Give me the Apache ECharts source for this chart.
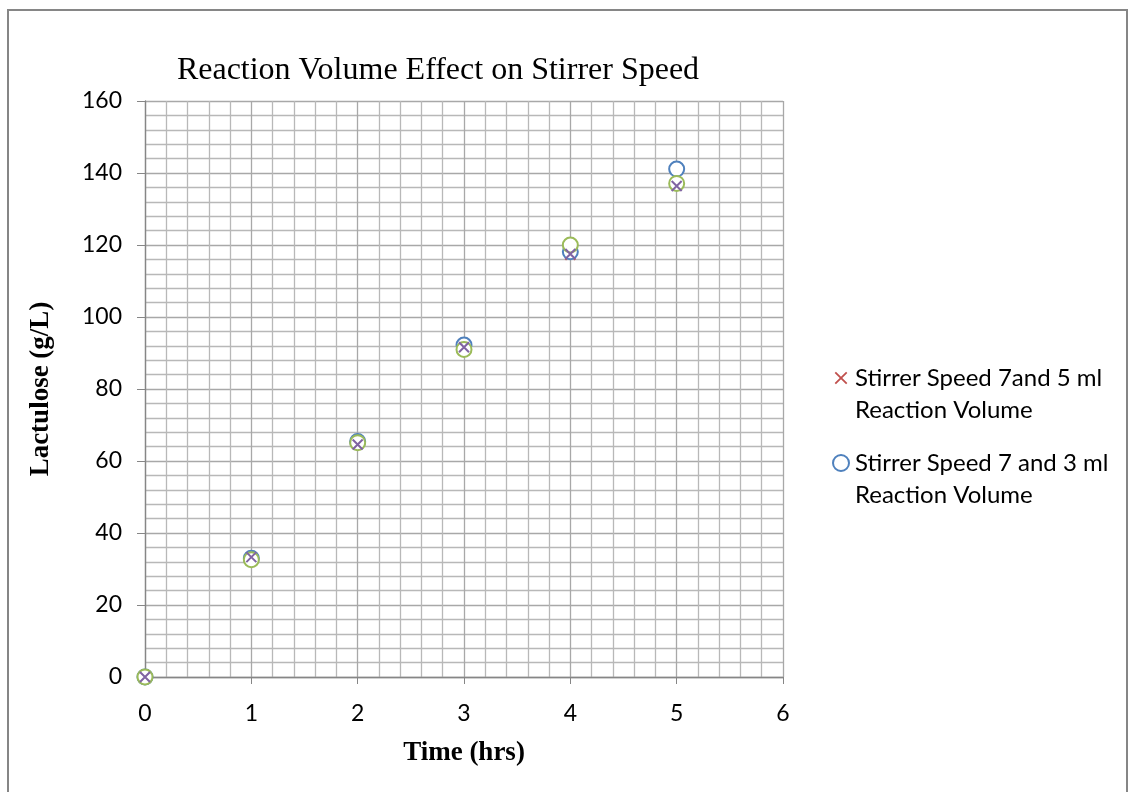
<!DOCTYPE html>
<html>
<head>
<meta charset="utf-8">
<script src="https://cdn.jsdelivr.net/npm/echarts@6/dist/echarts.min.js"></script>
<style>
html, body { margin: 0; padding: 0; background: #fff; }
#chart { width: 1129px; height: 792px; }
</style>
</head>
<body>
<div id="chart"></div>
<script>
// time points (hrs)
var times = [0, 1, 2, 3, 4, 5];
// lactulose g/L per run
var speed7vol5 = [0, 33.2, 65.0, 91.8, 117.3, 139.0];
var speed7vol3 = [0, 33.0, 65.4, 92.2, 118.1, 141.1];
var runGreen = [0, 32.6, 65.1, 91.0, 120.0, 137.1];
var runPurple = [0, 33.3, 64.6, 91.6, 117.5, 136.4];
var legendNames = ['Stirrer Speed 7and 5 ml Reaction Volume', 'Stirrer Speed 7 and 3 ml Reaction Volume'];
var xTicks = [0, 1, 2, 3, 4, 5, 6];
var yTicks = [0, 20, 40, 60, 80, 100, 120, 140, 160];

var crossPath = 'path://M0,0L10,10M10,0L0,10';
// same cross, padded a bit so the legend icon is not too big
var legendCross = 'path://M0,0M14,14M2,2L12,12M12,2L2,12';

function pairs(ys) {
    var out = [];
    for (var i = 0; i < times.length; i++) {
        out.push([times[i], ys[i]]);
    }
    return out;
}

function crossSeries(name, ys, color) {
    return {
        name: name,
        type: 'scatter',
        data: pairs(ys),
        symbol: crossPath,
        symbolSize: 10,
        itemStyle: { color: 'transparent', borderColor: color, borderWidth: 2, opacity: 1 }
    };
}

function circleSeries(name, ys, color) {
    return {
        name: name,
        type: 'scatter',
        data: pairs(ys),
        symbol: 'emptyCircle',
        symbolSize: 15,
        itemStyle: { color: color, borderColor: color, borderWidth: 2.2, opacity: 1 }
    };
}

var chart = echarts.init(document.getElementById('chart'));
var option = {
    animation: false,
    backgroundColor: '#fff',
    graphic: [{
        type: 'rect',
        shape: { x: 8, y: 10, width: 1119, height: 800 },
        style: { fill: 'none', stroke: '#868686', lineWidth: 2 },
        silent: true
    }],
    title: {
        text: 'Reaction Volume Effect on Stirrer Speed',
        left: 433,
        textAlign: 'center',
        top: 50,
        textStyle: { fontFamily: 'Liberation Serif', fontWeight: 'normal', fontSize: 32, color: '#000' }
    },
    legend: {
        data: [
            { name: legendNames[0], icon: legendCross, itemStyle: { color: 'transparent', borderColor: '#C0504D', borderWidth: 1.8 } },
            { name: legendNames[1], icon: 'emptyCircle', itemStyle: { color: '#4F81BD', borderColor: '#4F81BD', borderWidth: 2.2 } }
        ],
        orient: 'vertical',
        left: 827,
        top: 325,
        itemWidth: 18,
        itemHeight: 16,
        itemGap: -11,
        formatter: function (name) {
            var cut = name.indexOf(' Reaction');
            return '\n' + name.substring(0, cut) + '\n' + name.substring(cut + 1);
        },
        textStyle: { fontFamily: 'Lato', fontSize: 24, color: '#000', lineHeight: 32 }
    },
    grid: { left: 145, right: 346, top: 101, bottom: 115 },
    xAxis: {
        type: 'value',
        min: xTicks[0],
        max: xTicks[xTicks.length - 1],
        interval: 1,
        name: 'Time (hrs)',
        nameLocation: 'middle',
        nameGap: 63,
        nameTextStyle: { fontFamily: 'Liberation Serif', fontWeight: 'bold', fontSize: 27, color: '#000' },
        axisLine: { lineStyle: { color: '#868686', width: 1.3 } },
        axisTick: { show: true, inside: false, length: 7, lineStyle: { color: '#868686' } },
        axisLabel: { fontFamily: 'Lato', fontSize: 23, color: '#000', margin: 25 },
        splitLine: { show: true, lineStyle: { color: '#a8a8a8', width: 1.3 } },
        minorTick: { show: false, splitNumber: 5 },
        minorSplitLine: { show: true, lineStyle: { color: '#b8b8b8', width: 1.3 } }
    },
    yAxis: {
        type: 'value',
        min: yTicks[0],
        max: yTicks[yTicks.length - 1],
        interval: 20,
        name: 'Lactulose (g/L)',
        nameLocation: 'middle',
        nameGap: 90,
        nameTextStyle: { fontFamily: 'Liberation Serif', fontWeight: 'bold', fontSize: 27, color: '#000' },
        axisLine: { show: true, lineStyle: { color: '#868686', width: 1.3 } },
        axisTick: { show: true, inside: false, length: 8, lineStyle: { color: '#868686' } },
        axisLabel: { fontFamily: 'Lato', fontSize: 23, color: '#000', margin: 23 },
        splitLine: { show: true, lineStyle: { color: '#a8a8a8', width: 1.3 } },
        minorTick: { show: false, splitNumber: 5 },
        minorSplitLine: { show: true, lineStyle: { color: '#b8b8b8', width: 1.3 } }
    },
    series: [
        crossSeries(legendNames[0], speed7vol5, '#C0504D'),
        circleSeries(legendNames[1], speed7vol3, '#4F81BD'),
        circleSeries('Green run', runGreen, '#9BBB59'),
        crossSeries('Purple run', runPurple, '#8064A2')
    ]
};
chart.setOption(option);
window.addEventListener('resize', function () {
    chart.resize();
});
</script>
</body>
</html>
